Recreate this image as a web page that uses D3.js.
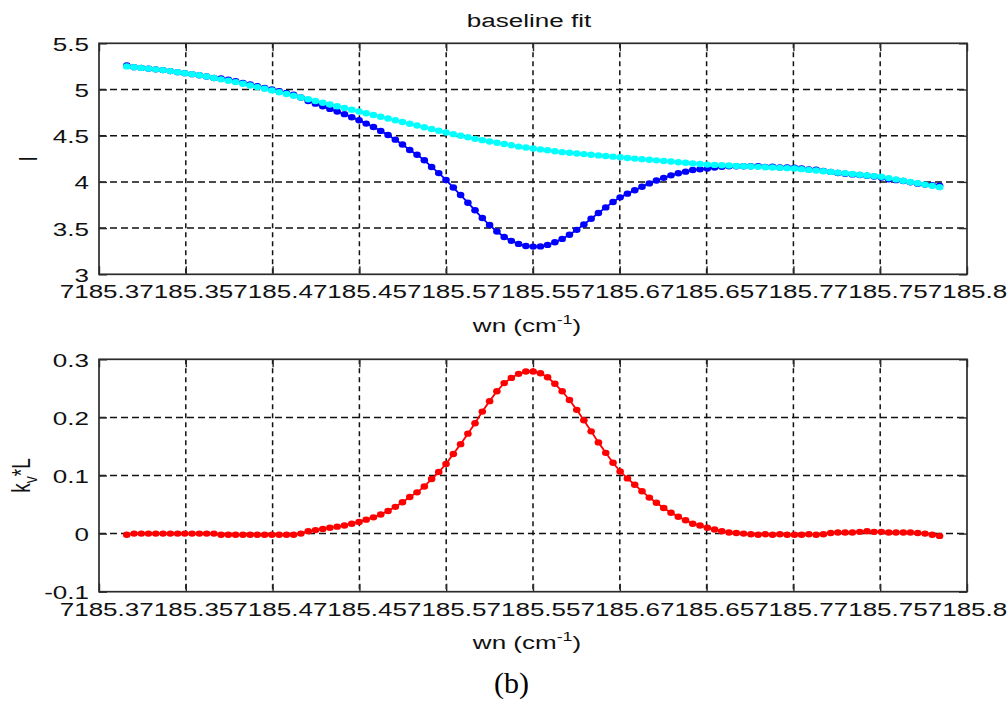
<!DOCTYPE html>
<html>
<head>
<meta charset="utf-8">
<script src="https://cdn.jsdelivr.net/npm/d3@7"></script>
<style>
  html, body { margin: 0; padding: 0; background: #ffffff; }
  svg { display: block; }
</style>
</head>
<body>
<svg id="fig" width="1007" height="703"></svg>
<script>
// Wavenumber grid (cm^-1)
const wn = [
  7185.3160, 7185.3202, 7185.3244, 7185.3285, 7185.3327, 7185.3369, 7185.3411, 7185.3453, 7185.3494, 7185.3536,
  7185.3578, 7185.3620, 7185.3662, 7185.3703, 7185.3745, 7185.3787, 7185.3829, 7185.3871, 7185.3912, 7185.3954,
  7185.3996, 7185.4038, 7185.4080, 7185.4121, 7185.4163, 7185.4205, 7185.4247, 7185.4289, 7185.4330, 7185.4372,
  7185.4414, 7185.4456, 7185.4498, 7185.4539, 7185.4581, 7185.4623, 7185.4665, 7185.4707, 7185.4748, 7185.4790,
  7185.4832, 7185.4874, 7185.4916, 7185.4957, 7185.4999, 7185.5041, 7185.5083, 7185.5125, 7185.5166, 7185.5208,
  7185.5250, 7185.5292, 7185.5334, 7185.5375, 7185.5417, 7185.5459, 7185.5501, 7185.5543, 7185.5584, 7185.5626,
  7185.5668, 7185.5710, 7185.5752, 7185.5793, 7185.5835, 7185.5877, 7185.5919, 7185.5961, 7185.6002, 7185.6044,
  7185.6086, 7185.6128, 7185.6170, 7185.6211, 7185.6253, 7185.6295, 7185.6337, 7185.6379, 7185.6420, 7185.6462,
  7185.6504, 7185.6546, 7185.6588, 7185.6629, 7185.6671, 7185.6713, 7185.6755, 7185.6797, 7185.6838, 7185.6880,
  7185.6922, 7185.6964, 7185.7006, 7185.7047, 7185.7089, 7185.7131, 7185.7173, 7185.7215, 7185.7256, 7185.7298,
  7185.7340, 7185.7382, 7185.7424, 7185.7465, 7185.7507, 7185.7549, 7185.7591, 7185.7633, 7185.7674, 7185.7716,
  7185.7758, 7185.7800, 7185.7842
];

// Measured transmitted intensity I
const measuredI = [
  5.261, 5.242, 5.234, 5.226, 5.218, 5.210, 5.199, 5.188, 5.177, 5.166,
  5.155, 5.140, 5.125, 5.120, 5.105, 5.090, 5.072, 5.054, 5.036, 5.018,
  5.000, 4.981, 4.962, 4.943, 4.914, 4.875, 4.847, 4.818, 4.790, 4.761,
  4.733, 4.700, 4.668, 4.631, 4.594, 4.552, 4.507, 4.457, 4.404, 4.346,
  4.294, 4.234, 4.162, 4.095, 4.021, 3.939, 3.858, 3.775, 3.693, 3.609,
  3.533, 3.463, 3.404, 3.362, 3.329, 3.307, 3.300, 3.302, 3.318, 3.347,
  3.383, 3.428, 3.481, 3.539, 3.601, 3.664, 3.724, 3.782, 3.833, 3.873,
  3.909, 3.947, 3.984, 4.015, 4.044, 4.071, 4.093, 4.111, 4.129, 4.136,
  4.145, 4.155, 4.163, 4.169, 4.169, 4.170, 4.170, 4.171, 4.163, 4.164,
  4.156, 4.157, 4.153, 4.146, 4.134, 4.131, 4.119, 4.108, 4.096, 4.089,
  4.081, 4.074, 4.066, 4.059, 4.047, 4.029, 4.019, 4.009, 3.995, 3.981,
  3.971, 3.965, 3.959
];

// Fitted baseline I0
const baselineI = [
  5.250, 5.242, 5.234, 5.226, 5.218, 5.210, 5.199, 5.188, 5.177, 5.166,
  5.155, 5.140, 5.125, 5.110, 5.095, 5.080, 5.062, 5.044, 5.026, 5.008,
  4.990, 4.971, 4.952, 4.933, 4.914, 4.895, 4.876, 4.857, 4.838, 4.819,
  4.800, 4.781, 4.762, 4.743, 4.724, 4.705, 4.686, 4.667, 4.648, 4.629,
  4.610, 4.591, 4.572, 4.553, 4.534, 4.517, 4.500, 4.483, 4.466, 4.452,
  4.438, 4.424, 4.410, 4.396, 4.382, 4.372, 4.362, 4.352, 4.342, 4.332,
  4.322, 4.315, 4.308, 4.301, 4.294, 4.287, 4.280, 4.273, 4.266, 4.259,
  4.252, 4.246, 4.239, 4.233, 4.226, 4.220, 4.213, 4.207, 4.200, 4.194,
  4.187, 4.184, 4.180, 4.177, 4.173, 4.170, 4.166, 4.163, 4.159, 4.156,
  4.152, 4.149, 4.145, 4.138, 4.130, 4.123, 4.115, 4.108, 4.100, 4.093,
  4.085, 4.078, 4.070, 4.063, 4.055, 4.041, 4.027, 4.013, 3.999, 3.985,
  3.971, 3.957, 3.943
];

// Integrated absorbance k_v*L
const absorbance = [
  -0.002, 0.000, 0.000, 0.000, 0.000, 0.000, 0.000, 0.000, 0.000, 0.000,
  0.000, 0.000, 0.000, -0.002, -0.002, -0.002, -0.002, -0.002, -0.002, -0.002,
  -0.002, -0.002, -0.002, -0.002, 0.000, 0.004, 0.006, 0.008, 0.010, 0.012,
  0.014, 0.017, 0.020, 0.024, 0.028, 0.033, 0.039, 0.046, 0.054, 0.063,
  0.071, 0.081, 0.094, 0.106, 0.120, 0.137, 0.154, 0.172, 0.190, 0.210,
  0.228, 0.245, 0.259, 0.268, 0.275, 0.279, 0.279, 0.276, 0.269, 0.258,
  0.245, 0.230, 0.213, 0.195, 0.176, 0.157, 0.139, 0.122, 0.107, 0.095,
  0.084, 0.073, 0.062, 0.053, 0.044, 0.036, 0.029, 0.023, 0.017, 0.014,
  0.010, 0.007, 0.004, 0.002, 0.001, 0.000, -0.001, -0.002, -0.001, -0.002,
  -0.001, -0.002, -0.002, -0.002, -0.001, -0.002, -0.001, 0.001, 0.002, 0.002,
  0.002, 0.003, 0.004, 0.003, 0.003, 0.002, 0.002, 0.002, 0.002, 0.001,
  0.000, -0.002, -0.004
];

// Axis ticks and their labels
const xTicks = [7185.3, 7185.35, 7185.4, 7185.45, 7185.5, 7185.55, 7185.6, 7185.65, 7185.7, 7185.75, 7185.8];
const xTickLabels = ["7185.3", "7185.35", "7185.4", "7185.45", "7185.5", "7185.55", "7185.6", "7185.65", "7185.7", "7185.75", "7185.8"];
const intensityTicks = [3, 3.5, 4, 4.5, 5, 5.5];
const intensityTickLabels = ["3", "3.5", "4", "4.5", "5", "5.5"];
const absorbanceTicks = [-0.1, 0, 0.1, 0.2, 0.3];
const absorbanceTickLabels = ["-0.1", "0", "0.1", "0.2", "0.3"];

const SANS = '"Liberation Sans", Arial, Helvetica, sans-serif';
const FS = 19;      // axis text size
const SX = 1.37;    // horizontal text stretch
const INK = "#2b2b2b";

const svg = d3.select("#fig");
const x = d3.scaleLinear()
  .domain([xTicks[0], xTicks[xTicks.length - 1]])
  .range([99, 967]);

function stretchedText(parent, tx, ty, anchor, rotate) {
  return parent.append("text")
    .attr("transform", `translate(${tx},${ty}) scale(${SX},1)` + (rotate ? ` rotate(${rotate})` : ""))
    .attr("text-anchor", anchor)
    .attr("font-family", SANS)
    .attr("font-size", FS)
    .attr("fill", "#111");
}

function drawPanel(cfg) {
  const { top, bottom, yTicks, yLabels, series } = cfg;
  const [L, R] = x.range();
  const y = d3.scaleLinear()
    .domain([yTicks[0], yTicks[yTicks.length - 1]])
    .range([bottom, top]);
  const g = svg.append("g");

  // dotted grid
  g.append("g").selectAll("line").data(xTicks.slice(1, -1)).join("line")
    .attr("x1", d => x(d)).attr("x2", d => x(d))
    .attr("y1", top).attr("y2", bottom)
    .attr("stroke", "#111").attr("stroke-width", 1.5)
    .attr("stroke-dasharray", "5,4");
  g.append("g").selectAll("line").data(yTicks.slice(1, -1)).join("line")
    .attr("x1", L).attr("x2", R)
    .attr("y1", d => y(d)).attr("y2", d => y(d))
    .attr("stroke", "#111").attr("stroke-width", 1.5)
    .attr("stroke-dasharray", "7,4");

  // data: line with dot markers
  series.forEach(s => {
    const pts = wn.map((w, i) => [x(w), y(s.values[i])]);
    g.append("path")
      .attr("d", d3.line()(pts))
      .attr("fill", "none")
      .attr("stroke", s.color)
      .attr("stroke-width", 1.8);
    g.append("g").selectAll("ellipse").data(pts).join("ellipse")
      .attr("cx", d => d[0]).attr("cy", d => d[1])
      .attr("rx", 3.8).attr("ry", 3.2)
      .attr("fill", s.color);
  });

  // axes box
  g.append("rect")
    .attr("x", L).attr("y", top)
    .attr("width", R - L).attr("height", bottom - top)
    .attr("fill", "none").attr("stroke", INK).attr("stroke-width", 1.7);

  const styleTicks = sel => {
    sel.select(".domain").remove();
    sel.selectAll(".tick line").attr("stroke", INK).attr("stroke-width", 1.4);
  };

  // bottom axis with labels
  const bx = g.append("g")
    .attr("transform", `translate(0,${bottom})`)
    .call(d3.axisBottom(x).tickValues(xTicks)
      .tickFormat(d => xTickLabels[xTicks.indexOf(d)])
      .tickSizeInner(-8).tickSizeOuter(0))
    .attr("font-family", SANS).attr("font-size", FS);
  styleTicks(bx);
  bx.selectAll(".tick text")
    .attr("x", 0).attr("y", 0).attr("dy", null)
    .attr("fill", "#111")
    .attr("text-anchor", "middle")
    .attr("transform", `translate(0,24) scale(${SX},1)`);

  // top axis: ticks only
  const tx = g.append("g")
    .attr("transform", `translate(0,${top})`)
    .call(d3.axisTop(x).tickValues(xTicks).tickFormat("")
      .tickSizeInner(-8).tickSizeOuter(0));
  styleTicks(tx);

  // left axis with labels
  const lx = g.append("g")
    .attr("transform", `translate(${L},0)`)
    .call(d3.axisLeft(y).tickValues(yTicks)
      .tickFormat(d => yLabels[yTicks.indexOf(d)])
      .tickSizeInner(-8).tickSizeOuter(0))
    .attr("font-family", SANS).attr("font-size", FS);
  styleTicks(lx);
  lx.selectAll(".tick text")
    .attr("x", 0).attr("y", 0).attr("dy", null)
    .attr("fill", "#111")
    .attr("text-anchor", "end")
    .attr("transform", `translate(-10,7) scale(${SX},1)`);

  // right axis: ticks only
  const rx = g.append("g")
    .attr("transform", `translate(${R},0)`)
    .call(d3.axisRight(y).tickValues(yTicks).tickFormat("")
      .tickSizeInner(-8).tickSizeOuter(0));
  styleTicks(rx);

  // x axis title: wn (cm^-1)
  const xt = stretchedText(g, (L + R) / 2 - 6, bottom + 57.5, "middle");
  xt.append("tspan").text("wn (cm");
  xt.append("tspan").attr("font-size", 13).attr("dy", -8).text("-1");
  xt.append("tspan").attr("dy", 8).text(")");

  return { g, y };
}

// Upper panel: measured intensity and fitted baseline
const upper = drawPanel({
  top: 43.3, bottom: 274.3,
  yTicks: intensityTicks, yLabels: intensityTickLabels,
  series: [
    { values: measuredI, color: "#0000ff" },
    { values: baselineI, color: "#00ffff" }
  ]
});
stretchedText(svg, 529, 26.5, "middle").text("baseline fit");
stretchedText(svg, 36.5, 158.8, "middle", -90).text("I");

// Lower panel: absorbance
const lower = drawPanel({
  top: 359.3, bottom: 591.7,
  yTicks: absorbanceTicks, yLabels: absorbanceTickLabels,
  series: [
    { values: absorbance, color: "#ff0000" }
  ]
});
const yl = stretchedText(svg, 30, 475.5, "middle", -90);
yl.append("tspan").text("k");
yl.append("tspan").attr("font-size", 14).attr("dy", 5).text("v");
yl.append("tspan").attr("dy", -5).text("*L");

// Figure caption
svg.append("text")
  .attr("x", 511.5).attr("y", 693)
  .attr("text-anchor", "middle")
  .attr("font-family", '"Liberation Serif", "Times New Roman", serif')
  .attr("font-size", 30)
  .attr("fill", "#000")
  .text("(b)");
</script>
</body>
</html>
